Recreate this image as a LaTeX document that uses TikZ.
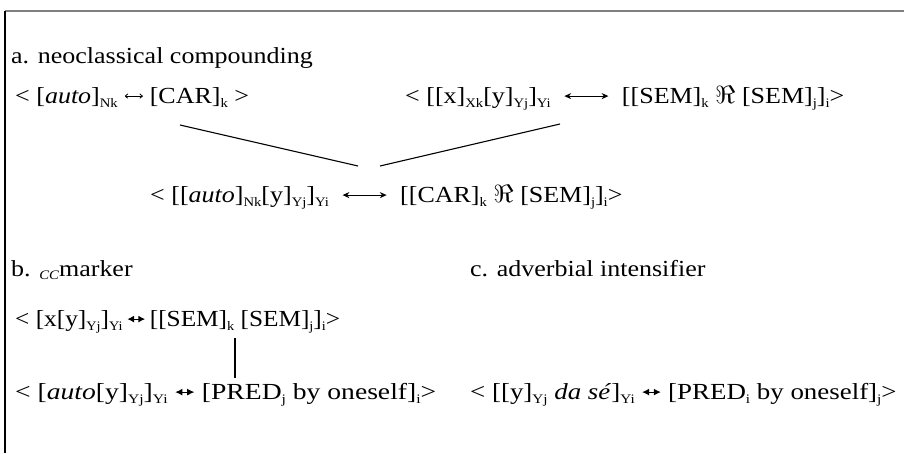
\documentclass[tikz,border=0pt]{standalone}
\usepackage{graphicx}
\usepackage{fontspec}
\setmainfont{Liberation Serif}
\usetikzlibrary{arrows.meta}
\newcommand{\sbs}[1]{\raisebox{-0.2em}{\fontsize{13}{13}\selectfont #1}}
\newcommand{\stx}[2][1.13]{\scalebox{#1}[1]{#2}}
\newcommand{\sarrow}{\tikz[baseline=-0.3em]\draw[line width=0.8pt,{To[length=3pt,width=5pt]}-{To[length=3pt,width=5pt]}] (0,0)--(16pt,0);}
\newcommand{\barrow}{\tikz[baseline=-0.3em]\draw[line width=1.1pt,{Latex[length=6pt,width=7pt]}-{Latex[length=6pt,width=7pt]}] (0,0)--(16pt,0);}
\newcommand{\larrow}{\tikz[baseline=-0.3em]\draw[line width=1pt,{Stealth[length=6pt,width=6pt]}-{Stealth[length=6pt,width=6pt]}] (0,0)--(39pt,0);}
\begin{document}
\begin{tikzpicture}[x=1pt,y=-1pt,
  txt/.style={anchor=base west,inner sep=0pt,font=\fontsize{23}{27}\selectfont},
  link/.style={line width=1.1pt}]
\useasboundingbox (0,0) rectangle (904,453);
\fill[white] (0,0) rectangle (904,453);
\draw[line width=2pt,gray] (5,11) -- (904,11);
\draw[line width=1.3pt] (5,11) -- (5,453);

\node[txt] (ha) at (11,63) {\stx{a. neoclassical compounding}};
\node[txt] (a1) at (15,103) {\stx{< [\textit{auto}]\sbs{Nk} \sarrow\ [CAR]\sbs{k} >}};
\node[txt] (a2) at (405,103) {\stx{< [[x]\sbs{Xk}[y]\sbs{Yj}]\sbs{Yi}\ \ \larrow\ \ [[SEM]\sbs{k} $\Re$ [SEM]\sbs{j}]\sbs{i}>}};
\node[txt] (a3) at (150,202) {\stx{< [[\textit{auto}]\sbs{Nk}[y]\sbs{Yj}]\sbs{Yi}\ \ \larrow\ \ [[CAR]\sbs{k} $\Re$ [SEM]\sbs{j}]\sbs{i}>}};

\coordinate (l1) at (180,125);
\coordinate (l2) at (358,166);
\coordinate (r1) at (560,124);
\coordinate (r2) at (380,166);
\draw[link] (l1) -- (l2);
\draw[link] (r1) -- (r2);

\node[txt] (hb) at (11,276) {\stx{b. {\fontsize{13}{13}\selectfont\raisebox{-0.3em}{\textit{CC}}}marker}};
\node[txt] (hc) at (470,276) {\stx{c. adverbial intensifier}};
\node[txt] (b1) at (15,326) {\stx[1.1]{< [x[y]\sbs{Yj}]\sbs{Yi}\,\barrow\,[[SEM]\sbs{k} [SEM]\sbs{j}]\sbs{i}>}};
\node[txt] (b2) at (15,399) {\stx[1.2]{< [\textit{auto}[y]\sbs{Yj}]\sbs{Yi} \barrow\ [PRED\sbs{j} by oneself]\sbs{i}>}};
\node[txt] (c1) at (470,399) {\stx[1.17]{< [[y]\sbs{Yj} \textit{da sé}]\sbs{Yi} \barrow\ [PRED\sbs{i} by oneself]\sbs{j}>}};

\coordinate (v1) at (235,338);
\coordinate (v2) at (235,378);
\draw[link] (v1) -- (v2);
\end{tikzpicture}
\end{document}
